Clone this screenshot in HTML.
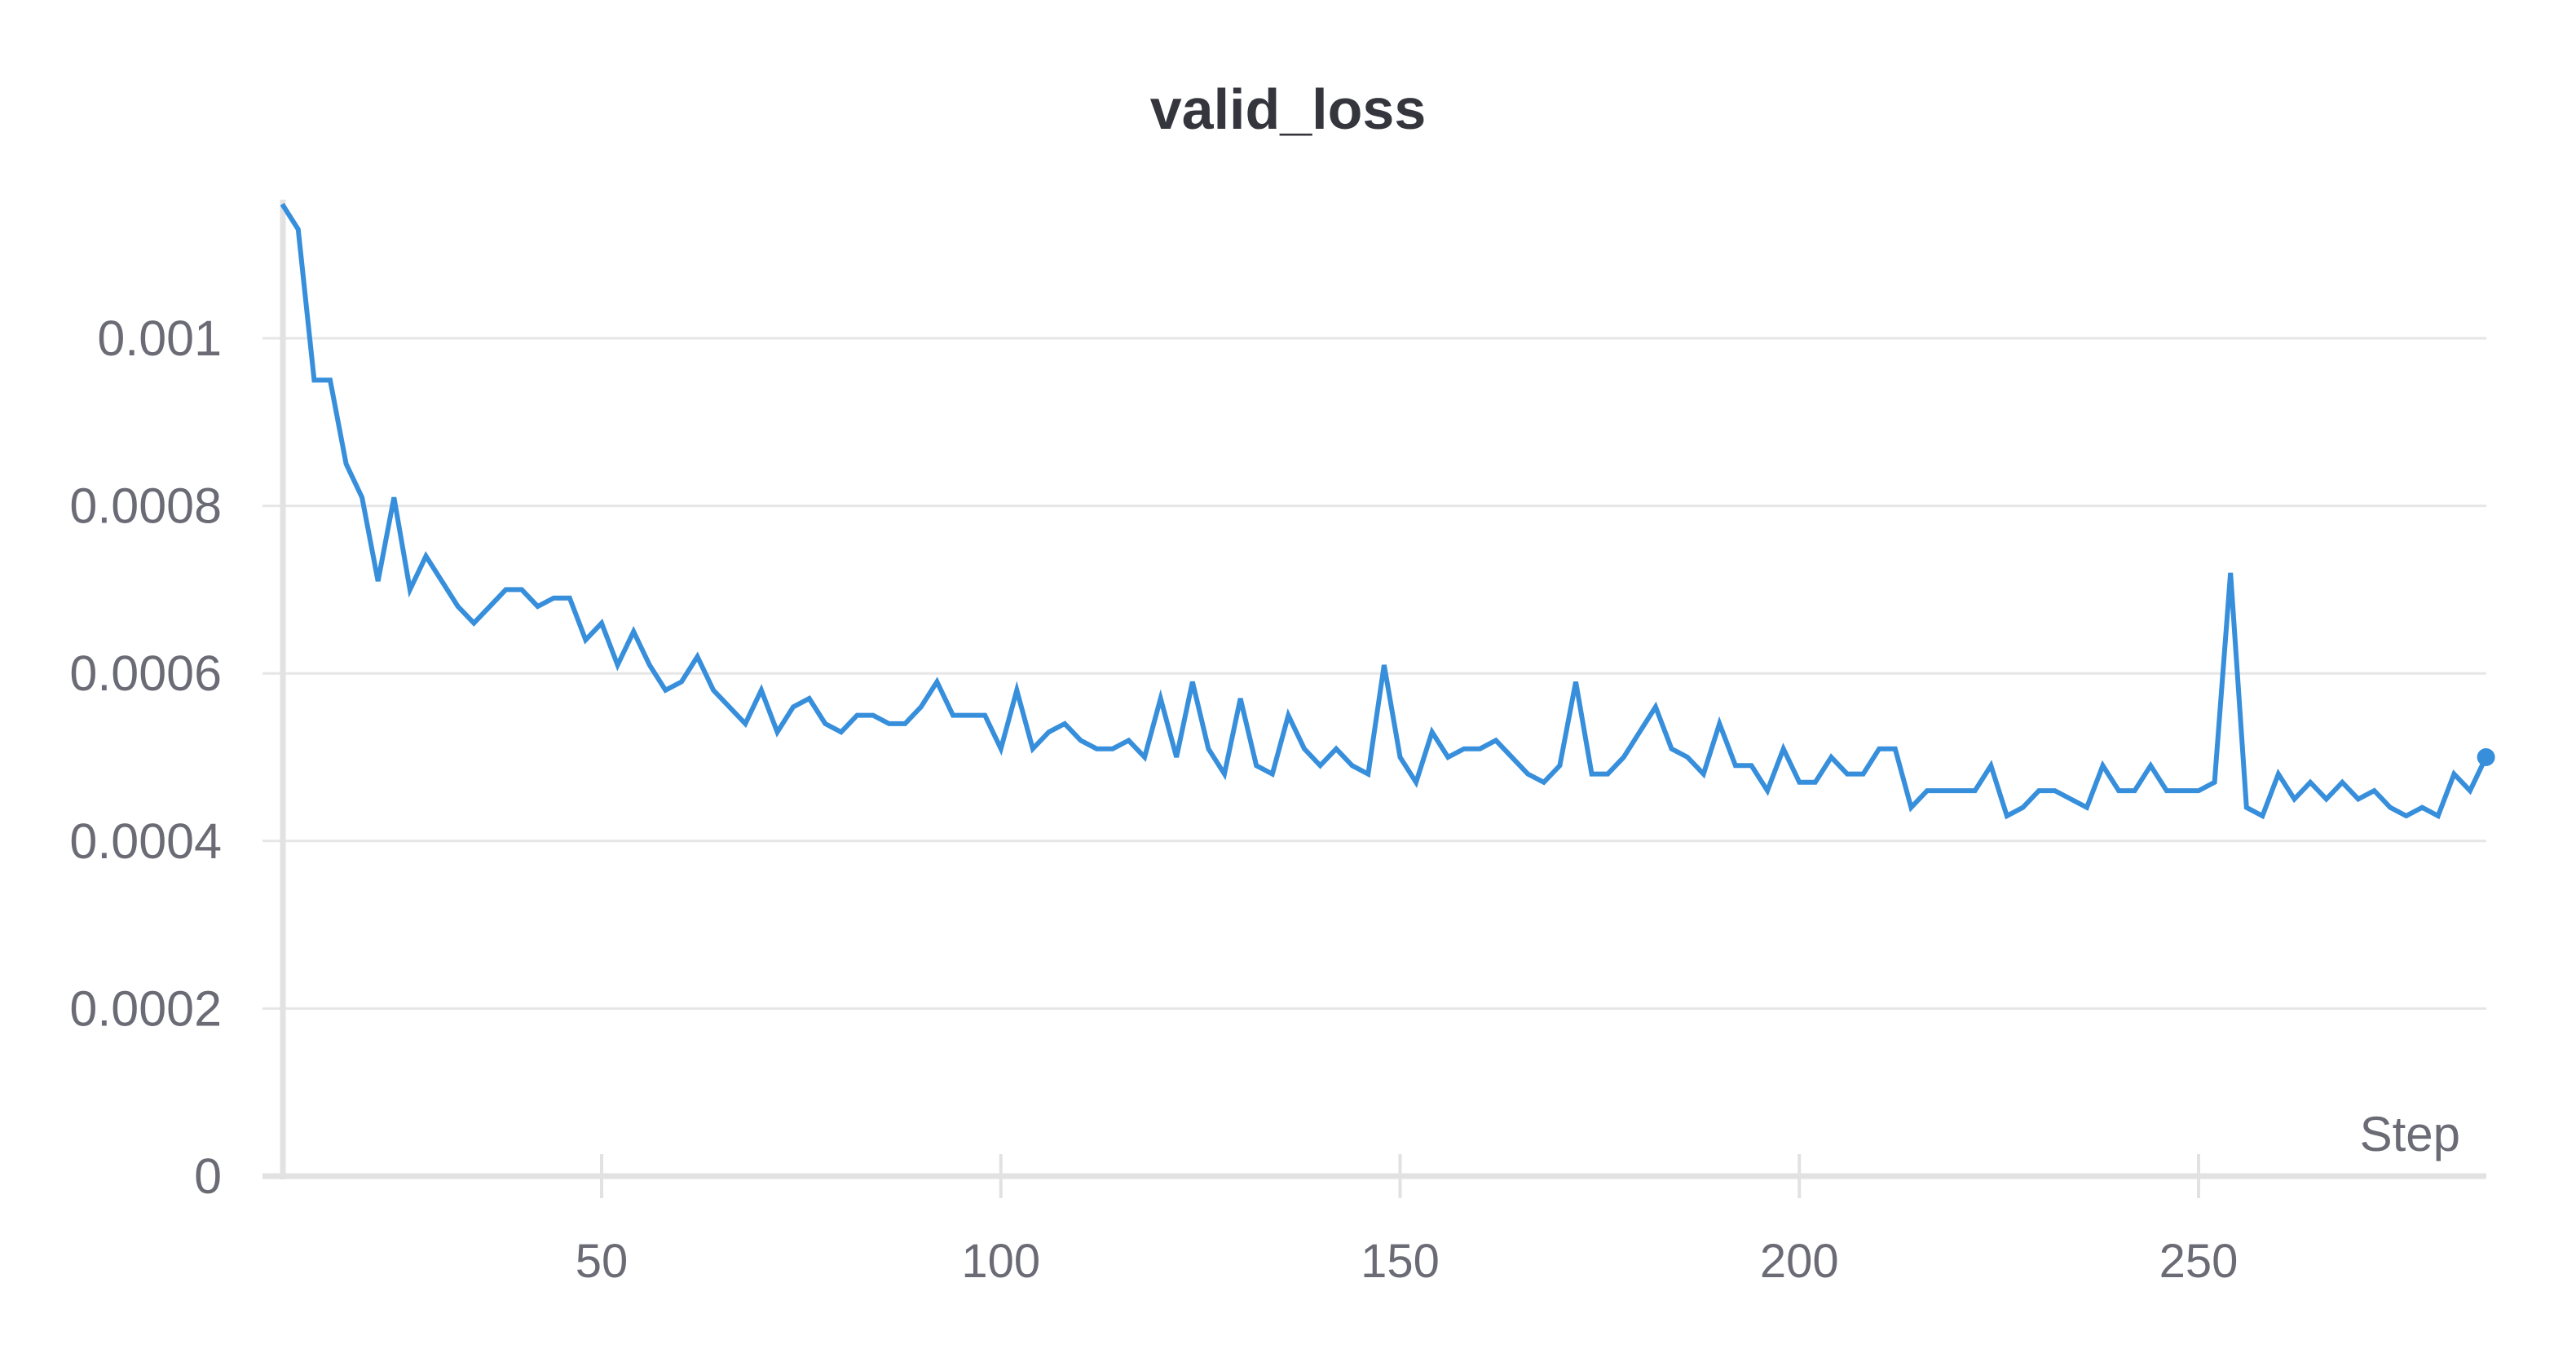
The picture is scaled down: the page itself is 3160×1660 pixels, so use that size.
<!DOCTYPE html>
<html><head><meta charset="utf-8"><style>
html,body{margin:0;padding:0;background:#fff;}
svg{display:block;}
text{font-family:"Liberation Sans",sans-serif;}
</style></head><body>
<svg id="chart" width="3160" height="1660" viewBox="0 0 3160 1660" xmlns="http://www.w3.org/2000/svg">
<text x="1580" y="158" text-anchor="middle" font-size="70" font-weight="bold" fill="#35353d">valid_loss</text>
<g id="grid"></g>
<g id="axes"></g>
<g id="series"></g>
</svg>
<script>
const steps = [];
for (let s = 10; s <= 286; s += 2) steps.push(s);
const lossValues = [116,113,95,95,85,81,71,81,70,74,71,68,66,68,70,70,68,69,69,64,66,61,65,61,58,59,62,58,56,54,58,53,56,57,54,53,55,55,54,54,56,59,55,55,55,51,58,51,53,54,52,51,51,52,50,57,50,59,51,48,57,49,48,55,51,49,51,49,48,61,50,47,53,50,51,51,52,50,48,47,49,59,48,48,50,53,56,51,50,48,54,49,49,46,51,47,47,50,48,48,51,51,44,46,46,46,46,49,43,44,46,46,45,44,49,46,46,49,46,46,46,47,72,44,43,48,45,47,45,47,45,46,44,43,44,43,48,46,50].map(v => v * 0.00001);
const yTicks = [0, 0.0002, 0.0004, 0.0006, 0.0008, 0.001];
const yTickLabels = ["0", "0.0002", "0.0004", "0.0006", "0.0008", "0.001"];
const xTicks = [50, 100, 150, 200, 250];
const xTickLabels = ["50", "100", "150", "200", "250"];

const NS = "http://www.w3.org/2000/svg";
const xScale = s => 738 + (s - 50) * 9.795;
const yScale = v => 1443 - v / 0.001 * 1028;
function mk(tag, attrs, parent) {
  const e = document.createElementNS(NS, tag);
  for (const k in attrs) e.setAttribute(k, attrs[k]);
  parent.appendChild(e);
  return e;
}
const grid = document.getElementById('grid');
const axes = document.getElementById('axes');
const series = document.getElementById('series');

yTicks.forEach((t, i) => {
  const y = yScale(t);
  if (t > 0) {
    const g = mk('line', {x1: 322, x2: 3050, y1: y, y2: y, stroke: '#e6e6e6', 'stroke-width': 3}, grid);
    
    
  }
  const lb = mk('text', {x: 272, y: y + 21, 'text-anchor': 'end', 'font-size': 61, fill: '#6b6b76'}, axes);
  lb.textContent = yTickLabels[i];
  
  
});
xTicks.forEach((t, i) => {
  const x = xScale(t);
  const tk = mk('line', {x1: x, x2: x, y1: 1416, y2: 1470, stroke: '#e2e2e2', 'stroke-width': 4}, axes);
  
  
  const lb = mk('text', {x: x, y: 1567, 'text-anchor': 'middle', 'font-size': 58, fill: '#6b6b76'}, axes);
  lb.textContent = xTickLabels[i];
  
  
});
const ya = mk('line', {x1: 347, x2: 347, y1: 245, y2: 1447, stroke: '#e2e2e2', 'stroke-width': 7}, axes);


const xa = mk('line', {x1: 322, x2: 3050, y1: 1443, y2: 1443, stroke: '#e2e2e2', 'stroke-width': 7}, axes);


const xt = mk('text', {x: 3018, y: 1412, 'text-anchor': 'end', 'font-size': 60, fill: '#6b6b76'}, axes);
xt.textContent = 'Step';



const pts = steps.map((s, i) => xScale(s).toFixed(1) + ',' + yScale(lossValues[i]).toFixed(1)).join(' ');
const line = mk('polyline', {points: pts, fill: 'none', stroke: '#378fdc', 'stroke-width': 6, 'stroke-linejoin': 'miter'}, series);


const last = steps.length - 1;
const dot = mk('circle', {cx: xScale(steps[last]), cy: yScale(lossValues[last]), r: 11, fill: '#378fdc'}, series);


</script>
</body></html>
